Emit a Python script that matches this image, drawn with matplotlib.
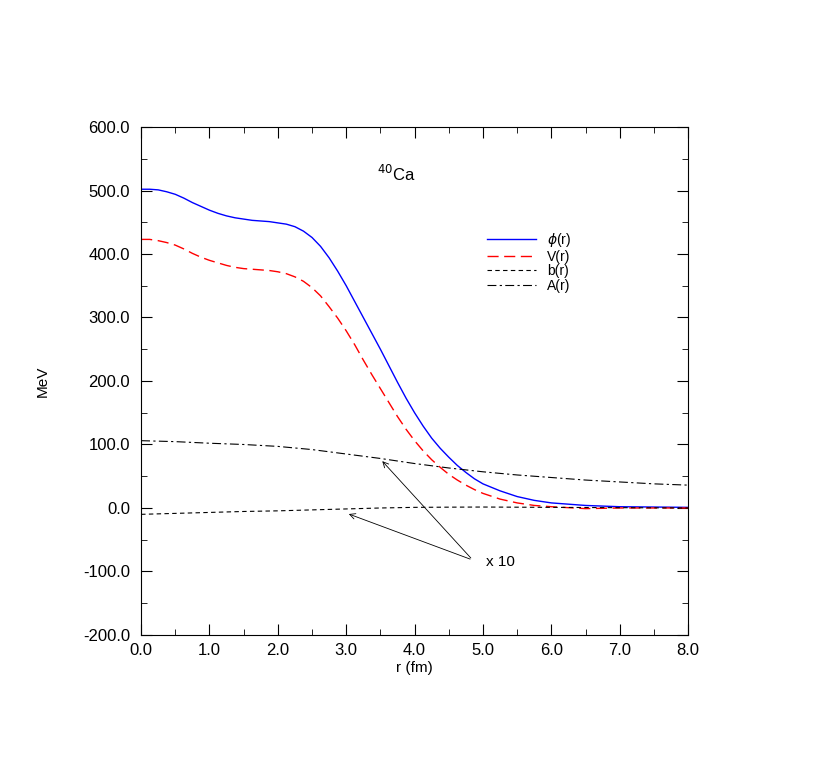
import matplotlib
matplotlib.use("Agg")
import matplotlib.pyplot as plt
from matplotlib.ticker import MultipleLocator, FormatStrFormatter
plt.rcParams['font.family'] = 'Liberation Sans'

r = [0.0,0.125,0.25,0.375,0.5,0.625,0.75,0.875,1.0,1.125,1.25,1.375,1.5,1.625,1.75,1.875,2.0,2.125,2.25,2.375,2.5,2.625,2.75,2.875,3.0,3.125,3.25,3.375,3.5,3.625,3.75,3.875,4.0,4.125,4.25,4.375,4.5,4.625,4.75,4.875,5.0,5.25,5.5,5.75,6.0,6.5,7.0,7.5,8.0]
phi = [502,502,501,498,494,488,481,475,469,464,460,457,455,453,452,451,449,447,443,436,426,412,394,373,350,325,300,275,250,224,198,173,150,129,110,94,80,67,56,46,38,27,18,12,8,4,2,1.5,1]
V = [423,423,421,418,414,408,401,395,390,386,382,379,377,376,375,374,372,369,364,357,347,334,317,299,279,257,233,210,188,166,144,124,106,90,76,64,53,44,36,29,23,14,8,4,2,-1,0,0,0]
rA = [0,0.5,1,1.5,2,2.5,3,3.5,4,4.5,5,5.5,6,6.5,7,7.5,8]
A = [106,104.5,102,100,97,92,85,78,70,63,57,52,48,44,41,38,36]
rb = [0,0.5,1,1.5,2,2.5,3,3.5,4,4.5,5,6,7,8]
b = [-10,-8.5,-7,-5.5,-4.5,-3,-1.5,0,1,1.3,1.5,1,0.5,0]

fig = plt.figure(figsize=(8.3,7.61), dpi=100)
ax = fig.add_axes([0.170,0.1656,0.659,0.6675])
ax.plot(r, phi, color='blue', lw=1, label=r'$\phi$(r)')
ax.plot(r, V, color='red', lw=1, dashes=(8,4), label='V(r)')
ax.plot(rb, b, color='black', lw=0.8, dashes=(4,3), label='b(r)')
ax.plot(rA, A, color='black', lw=0.8, dashes=(8,3,2,3), label='A(r)')
ax.set_xlim(0,8); ax.set_ylim(-200,600)
ax.xaxis.set_major_locator(MultipleLocator(1)); ax.xaxis.set_minor_locator(MultipleLocator(0.5))
ax.yaxis.set_major_locator(MultipleLocator(100)); ax.yaxis.set_minor_locator(MultipleLocator(50))
ax.xaxis.set_major_formatter(FormatStrFormatter('%.1f'))
ax.yaxis.set_major_formatter(FormatStrFormatter('%.1f'))
ax.tick_params(which='both', direction='in', top=True, right=True, labelsize=12)
ax.tick_params(which='major', length=8); ax.tick_params(which='minor', length=4)
ax.tick_params(axis='x', pad=6); ax.tick_params(axis='y', pad=8)
ax.set_xlabel('r (fm)', fontsize=11, labelpad=2)
ax.set_ylabel('MeV', fontsize=11, labelpad=24)
ax.text(3.45, 515, r'$^{40}$Ca', fontsize=12)
ax.legend(loc='upper left', bbox_to_anchor=(0.61,0.82), frameon=False, fontsize=10,
          handlelength=3.5, labelspacing=0.05)
ax.text(5.05, -92, 'x 10', fontsize=11)
for tx, ty in [(3.5,77),(3.0,-8)]:
    ax.annotate('', xy=(tx,ty), xytext=(4.85,-82),
                arrowprops=dict(arrowstyle='->', lw=0.6, color='black'))
fig.savefig('out.png', dpi=100)
